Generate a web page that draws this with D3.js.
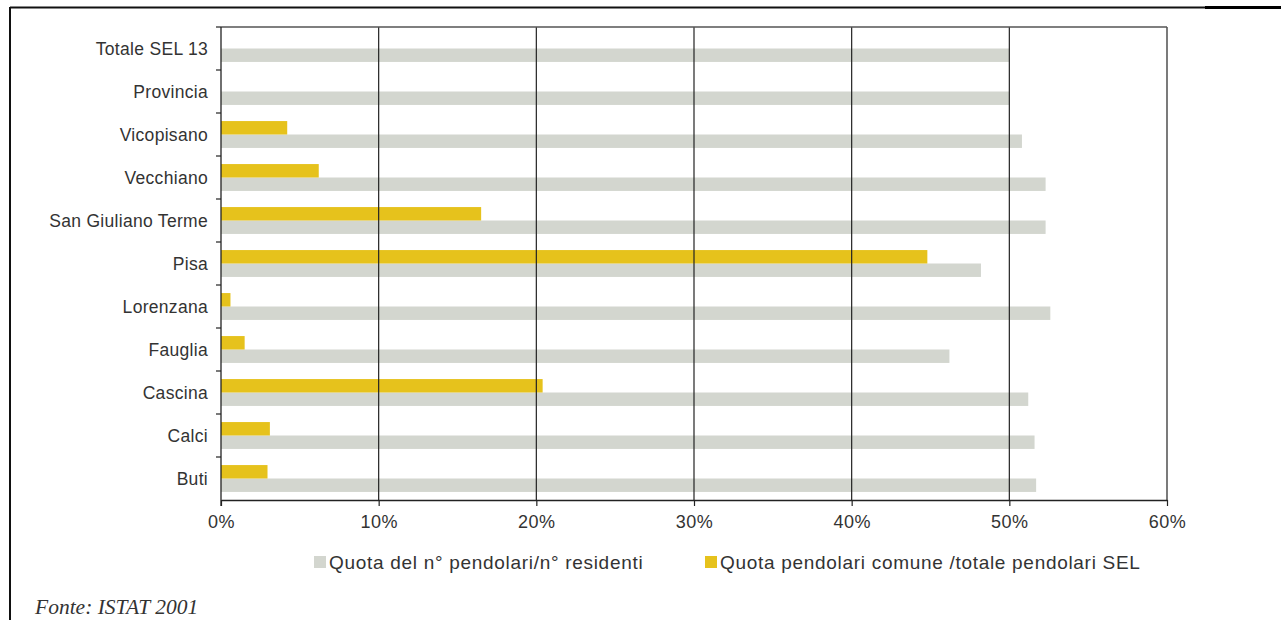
<!DOCTYPE html>
<html lang="en">
<head>
    <style>
        body { margin: 0; background: #fff; }
        text { font-family: "Liberation Sans", Arial, sans-serif; fill: #333; }
    </style>
    <script src="https://d3js.org/d3.v7.min.js"></script>
</head>
<body>
    <svg width="1281" height="620"></svg>
    <script>
        // categories, top to bottom
        var categories = ["Totale SEL 13", "Provincia", "Vicopisano", "Vecchiano", "San Giuliano Terme",
                          "Pisa", "Lorenzana", "Fauglia", "Cascina", "Calci", "Buti"];
        // Quota del n° pendolari/n° residenti (%)
        var quotaResidenti = [50.0, 50.0, 50.8, 52.3, 52.3, 48.2, 52.6, 46.2, 51.2, 51.6, 51.7];
        // Quota pendolari comune /totale pendolari SEL (%)
        var quotaSel = [0, 0, 4.2, 6.2, 16.5, 44.8, 0.6, 1.5, 20.4, 3.1, 2.95];
        var xTicks = [0, 10, 20, 30, 40, 50, 60];
        var seriesNames = ["Quota del n° pendolari/n° residenti", "Quota pendolari comune /totale pendolari SEL"];

        var svg = d3.select("svg");
        var pLeft = 221, pRight = 1167, pTop = 27, pBottom = 500;

        var x = d3.scaleLinear().domain([0, 60]).range([pLeft, pRight]);
        var y = d3.scaleBand().domain(categories).range([pTop, pBottom]);
        var sub = d3.scaleBand().domain(["sel", "res"]).range([0, y.bandwidth()]).paddingOuter(0.6).paddingInner(0);

        // outer frame lines
        svg.append("line").attr("x1", 10).attr("x2", 1281).attr("y1", 7.5).attr("y2", 7.5)
           .attr("stroke", "#111").attr("stroke-width", 2);
        svg.append("line").attr("x1", 1205).attr("x2", 1281).attr("y1", 7.5).attr("y2", 7.5)
           .attr("stroke", "#000").attr("stroke-width", 3);
        svg.append("line").attr("x1", 10).attr("x2", 10).attr("y1", 7).attr("y2", 620)
           .attr("stroke", "#111").attr("stroke-width", 2);

        var g = svg.append("g");

        // bars
        g.selectAll(".res").data(categories).enter().append("rect")
         .attr("x", x(0))
         .attr("y", function(d) { return y(d) + sub("res"); })
         .attr("width", function(d, i) { return x(quotaResidenti[i]) - x(0); })
         .attr("height", sub.bandwidth())
         .attr("fill", "#d3d6cf");

        g.selectAll(".sel").data(categories).enter().append("rect")
         .attr("x", x(0))
         .attr("y", function(d) { return y(d) + sub("sel"); })
         .attr("width", function(d, i) { return x(quotaSel[i]) - x(0); })
         .attr("height", sub.bandwidth())
         .attr("fill", "#e6c21c");

        // gridlines
        g.selectAll(".grid").data(xTicks.slice(1)).enter().append("line")
         .attr("x1", function(d) { return x(d); })
         .attr("x2", function(d) { return x(d); })
         .attr("y1", pTop).attr("y2", pBottom)
         .attr("stroke", "#222").attr("stroke-width", 1.2);

        // top border
        g.append("line").attr("x1", pLeft).attr("x2", pRight).attr("y1", pTop).attr("y2", pTop)
         .attr("stroke", "#555").attr("stroke-width", 1.5);

        // x axis
        var xAxis = g.append("g")
         .attr("transform", "translate(0," + pBottom + ")")
         .call(d3.axisBottom(x).tickValues(xTicks).tickSize(6).tickSizeOuter(0)
               .tickFormat(function(d) { return d + "%"; }));
        xAxis.select(".domain").attr("stroke", "#222").attr("stroke-width", 1.3);
        xAxis.selectAll(".tick line").attr("stroke", "#222").attr("stroke-width", 1.2);
        xAxis.selectAll("text").attr("font-size", "18px").attr("dy", "1.05em")
             .attr("letter-spacing", "0.5px").attr("fill", "#333");

        // y axis with ticks at band boundaries
        g.append("line").attr("x1", pLeft).attr("x2", pLeft).attr("y1", pTop).attr("y2", pBottom + 6)
         .attr("stroke", "#222").attr("stroke-width", 1.3);
        g.selectAll(".ytick").data(categories).enter().append("line")
         .attr("x1", pLeft - 5).attr("x2", pLeft)
         .attr("y1", function(d) { return y(d); })
         .attr("y2", function(d) { return y(d); })
         .attr("stroke", "#222").attr("stroke-width", 1.2);
        g.selectAll(".ylabel").data(categories).enter().append("text")
         .attr("x", pLeft - 13)
         .attr("y", function(d) { return y(d) + y.bandwidth() / 2; })
         .attr("dy", "0.35em")
         .attr("text-anchor", "end")
         .attr("font-size", "17.5px")
         .attr("letter-spacing", "0.3px")
         .text(function(d) { return d; });

        // legend
        var legendX = [314, 705], legendColors = ["#d3d6cf", "#e6c21c"];
        var lg = svg.selectAll(".legend").data(seriesNames).enter().append("g")
         .attr("transform", function(d, i) { return "translate(" + legendX[i] + ",562)"; });
        lg.append("rect").attr("x", 0).attr("y", -6).attr("width", 12).attr("height", 12)
         .attr("fill", function(d, i) { return legendColors[i]; });
        lg.append("text").attr("x", 15).attr("dy", "0.35em").attr("font-size", "19px")
         .attr("letter-spacing", "0.7px")
         .text(function(d) { return d; });

        // source
        svg.append("text").attr("x", 35).attr("y", 614)
         .style("font-family", "'Liberation Serif', 'Times New Roman', serif")
         .style("font-style", "italic")
         .attr("font-size", "21.5px")
         .attr("fill", "#333")
         .text("Fonte: ISTAT 2001");
    </script>
</body>
</html>
